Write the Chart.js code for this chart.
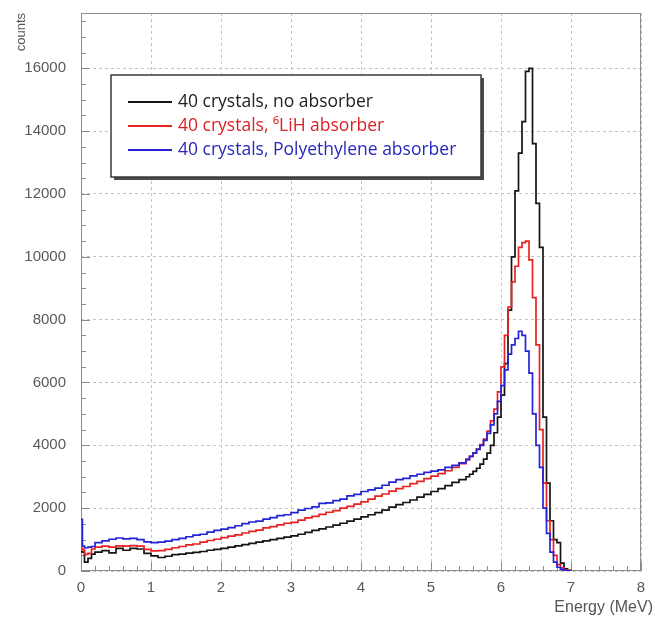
<!DOCTYPE html>
<html>
<head>
<meta charset="utf-8">
<script src="https://cdn.jsdelivr.net/npm/chart.js@4/dist/chart.umd.min.js"></script>
<style>
  html, body { margin: 0; padding: 0; background: #ffffff; }
  #wrap { width: 655px; height: 623px; }
</style>
</head>
<body>
<div id="wrap"><canvas id="c" width="655" height="623"></canvas></div>
<script>
// Bin left edges (MeV)
const energy = [0, 0.02, 0.05, 0.1, 0.15, 0.2,
  0.3, 0.4, 0.5, 0.6, 0.7, 0.8, 0.9, 1.0,
  1.1, 1.2, 1.3, 1.4, 1.5, 1.6, 1.7, 1.8, 1.9, 2.0,
  2.1, 2.2, 2.3, 2.4, 2.5, 2.6, 2.7, 2.8, 2.9, 3.0,
  3.1, 3.2, 3.3, 3.4, 3.5, 3.6, 3.7, 3.8, 3.9, 4.0,
  4.1, 4.2, 4.3, 4.4, 4.5, 4.6, 4.7, 4.8, 4.9, 5.0,
  5.1, 5.2, 5.3, 5.4, 5.5,
  5.55, 5.6, 5.65, 5.7, 5.75, 5.8, 5.85, 5.9, 5.95, 6.0,
  6.05, 6.1, 6.15, 6.2, 6.25, 6.3, 6.35, 6.4, 6.45, 6.5,
  6.55, 6.6, 6.65, 6.7, 6.75, 6.8, 6.85, 6.9, 6.95, 7.0];

const noAbsorber = [620, 600, 280, 400, 540, 600,
  650, 580, 720, 660, 720, 700, 560, 480,
  430, 470, 520, 540, 570, 590, 620, 660, 690, 720,
  760, 800, 840, 880, 920, 960, 1000, 1040, 1080, 1120,
  1170, 1230, 1290, 1340, 1400, 1460, 1520, 1590, 1650, 1720,
  1790, 1860, 1940, 2030, 2110, 2180, 2260, 2350, 2440, 2530,
  2620, 2720, 2820, 2910, 3000,
  3080, 3170, 3270, 3400, 3560, 3750, 4000, 4400, 4900, 5600,
  6600, 8300, 10000, 12100, 13300, 14300, 15900, 16000, 13600, 11700,
  10300, 4900, 2800, 1600, 1000, 900, 250, 70, 20, 0];

const lihAbsorber = [720, 680, 530, 560, 700, 760,
  790, 760, 800, 790, 810, 790, 690, 640,
  650, 690, 740, 780, 830, 860, 920, 970, 1010, 1060,
  1110, 1150, 1210, 1260, 1300, 1370, 1410, 1470, 1520, 1550,
  1620, 1690, 1740, 1800, 1870, 1920, 2000, 2060, 2130, 2200,
  2290, 2380, 2450, 2540, 2620, 2690, 2780, 2850, 2940, 3020,
  3100, 3190, 3300, 3420, 3540,
  3650, 3760, 3880, 4020, 4200, 4450, 4780, 5150, 5700, 6500,
  7500, 8400, 9200, 9700, 10300, 10450, 10500, 9900, 8700, 7200,
  4500, 2800, 1600, 1000, 500, 200, 100, 30, 10, 0];

const peAbsorber = [1640, 790, 740, 760, 780, 900,
  960, 1010, 1050, 1020, 1040, 1000, 930, 900,
  920, 950, 1000, 1040, 1090, 1140, 1170, 1240, 1290, 1330,
  1380, 1440, 1510, 1560, 1590, 1650, 1700, 1760, 1790, 1860,
  1940, 1990, 2040, 2150, 2170, 2240, 2290, 2390, 2440, 2530,
  2580, 2640, 2730, 2830, 2910, 2950, 3030, 3080, 3140, 3180,
  3220, 3300, 3360, 3440, 3560,
  3650, 3750, 3870, 4000, 4160, 4380, 4650, 5000, 5400, 5900,
  6400, 6900, 7200, 7400, 7630, 7500, 7000, 6300, 5000, 4000,
  3300, 2000, 1200, 600, 280, 120, 50, 10, 0, 0];

const seriesLabels = ['40 crystals, no absorber', '40 crystals, \u2076LiH absorber', '40 crystals, Polyethylene absorber'];
const xTicks = [0, 1, 2, 3, 4, 5, 6, 7, 8];
const yTicks = [0, 2000, 4000, 6000, 8000, 10000, 12000, 14000, 16000];
const xTitle = 'Energy (MeV)';
const yTitle = 'counts';

const lineColors = ['#151515', 'rgb(232,34,34)', 'rgb(36,36,214)'];
const textColors = ['#222222', 'rgb(222,30,36)', 'rgb(40,40,190)'];

function toPoints(vals) { return energy.map((e, i) => ({ x: e, y: vals[i] })); }

const frameAndTicks = {
  id: 'frameAndTicks',
  beforeDatasetsDraw(chart) {
    const { ctx, chartArea: a, scales: { x, y } } = chart;
    ctx.save();
    ctx.strokeStyle = '#8c8c8c';
    ctx.lineWidth = 1;
    ctx.strokeRect(Math.round(a.left) + 0.5, Math.round(a.top) + 0.5,
      Math.round(a.right - a.left) - 1, Math.round(a.bottom - a.top) - 1);
    ctx.beginPath();
    for (let i = 0; i <= 40; i++) {
      const px = Math.round(x.getPixelForValue(i * 0.2)) + 0.5;
      const len = (i % 5 === 0) ? 9 : 5;
      ctx.moveTo(px, a.bottom);
      ctx.lineTo(px, a.bottom - len);
    }
    for (let v = 0; v <= y.max; v += 500) {
      const py = Math.round(y.getPixelForValue(v)) + 0.5;
      const len = (v % 2000 === 0) ? 9 : 5;
      ctx.moveTo(a.left, py);
      ctx.lineTo(a.left + len, py);
    }
    ctx.stroke();
    ctx.restore();
  },
  afterDraw(chart) {
    const ctx = chart.ctx;
    const a = chart.chartArea;
    ctx.save();
    // axis titles
    ctx.fillStyle = '#555555';
    ctx.font = '16px "Liberation Sans", Arial, sans-serif';
    ctx.textAlign = 'right';
    ctx.textBaseline = 'middle';
    ctx.fillText(xTitle, a.right + 12, 608);
    ctx.save();
    ctx.translate(21, a.top);
    ctx.rotate(-Math.PI / 2);
    ctx.font = '13px "Liberation Sans", Arial, sans-serif';
    ctx.textAlign = 'right';
    ctx.textBaseline = 'middle';
    ctx.fillText(yTitle, 0, 0);
    ctx.restore();

    // legend box
    const bx = 111, by = 75, bw = 370, bh = 102;
    ctx.fillStyle = '#4a4a4a';
    ctx.fillRect(bx + 3, by + 3, bw, bh);
    ctx.fillStyle = '#ffffff';
    ctx.fillRect(bx, by, bw, bh);
    ctx.strokeStyle = '#3a3a3a';
    ctx.lineWidth = 1.5;
    ctx.strokeRect(bx, by, bw, bh);
    ctx.font = '17.5px "Open Sans", "DejaVu Sans", sans-serif';
    ctx.textAlign = 'left';
    ctx.textBaseline = 'middle';
    chart.data.datasets.forEach((ds, i) => {
      const yy = by + 27 + i * 24;
      ctx.strokeStyle = ds.borderColor;
      ctx.lineWidth = 2;
      ctx.beginPath();
      ctx.moveTo(bx + 17, yy);
      ctx.lineTo(bx + 61, yy);
      ctx.stroke();
      ctx.fillStyle = textColors[i];
      ctx.fillText(ds.label, bx + 67, yy);
    });
    ctx.restore();
  }
};

const datasets = [noAbsorber, lihAbsorber, peAbsorber].map((vals, i) => ({
  label: seriesLabels[i],
  data: toPoints(vals),
  borderColor: lineColors[i],
  backgroundColor: lineColors[i],
  borderWidth: 1.7,
  pointRadius: 0,
  stepped: true,
  fill: false,
  order: 2 - i
}));

const tickFont = { family: '"Liberation Sans", Arial, sans-serif', size: 15 };

new Chart(document.getElementById('c'), {
  type: 'line',
  data: { datasets },
  options: {
    responsive: false,
    animation: false,
    events: [],
    layout: { padding: { left: 0, right: 14, top: 13, bottom: 0 } },
    plugins: { legend: { display: false }, tooltip: { enabled: false } },
    scales: {
      x: {
        type: 'linear', min: 0, max: 8,
        afterBuildTicks: s => { s.ticks = xTicks.map(v => ({ value: v })); },
        afterFit: s => { s.height = 52; s.paddingLeft = 0; s.paddingRight = 0; },
        ticks: { color: '#5a5a5a', padding: 8, maxRotation: 0, font: tickFont, callback: v => String(v) },
        grid: { drawTicks: false, color: '#c4c4c4', lineWidth: 1 },
        border: { display: false, dash: [3, 3] }
      },
      y: {
        type: 'linear', min: 0, max: 17760,
        afterBuildTicks: s => { s.ticks = yTicks.map(v => ({ value: v })); },
        afterFit: s => { s.width = 81; s.paddingTop = 0; s.paddingBottom = 0; },
        ticks: { color: '#5a5a5a', padding: 15, font: tickFont, callback: v => String(v) },
        grid: { drawTicks: false, color: '#c4c4c4', lineWidth: 1 },
        border: { display: false, dash: [3, 3] }
      }
    }
  },
  plugins: [frameAndTicks]
});
</script>
</body>
</html>
